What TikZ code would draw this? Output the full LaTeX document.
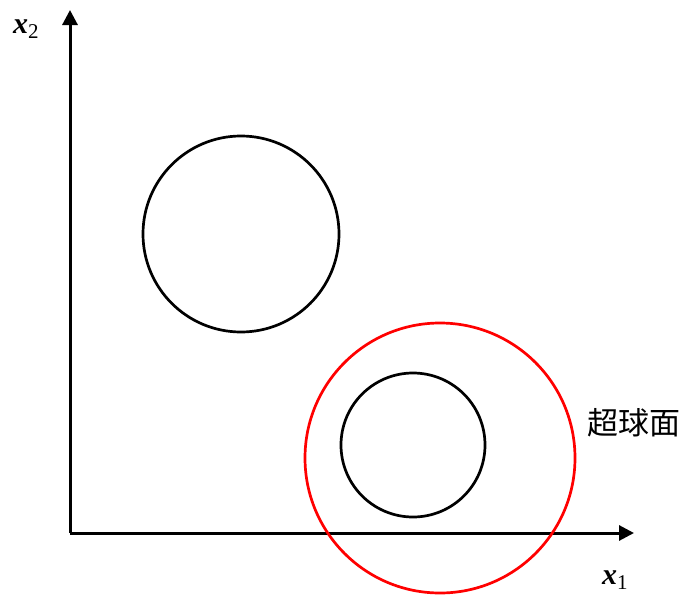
\documentclass[tikz,border=0pt]{standalone}
\usepackage{fontspec}
\setmainfont{Liberation Serif}
\newfontfamily\cjk{Noto Sans CJK SC}
\usetikzlibrary{arrows.meta}
\begin{document}
\begin{tikzpicture}[x=1pt,y=-1pt,
  axis/.style={line width=3pt,-{Triangle[length=15pt,width=15pt]}},
  ring/.style={line width=2.7pt},
  lbl/.style={inner sep=0pt,font=\fontsize{30}{32}\selectfont}]
\useasboundingbox (0,0) rectangle (682,597);
\coordinate (o) at (70,533);
\coordinate (ytip) at (70,10);
\coordinate (xtip) at (634,533);
\draw[axis] (o) -- (ytip);
\draw[axis] (o) -- (xtip);
\node[ring,draw,circle,minimum size=196pt] (c1) at (241,234) {};
\node[ring,draw,circle,minimum size=144pt] (c2) at (413,445) {};
\node[ring,draw=red,circle,minimum size=270pt] (c3) at (440,458) {};
\node[lbl,anchor=base west] (x2) at (13,33) {\textbf{\textit{x}}\textsubscript{2}};
\node[lbl,anchor=base west] (x1) at (602,584) {\textbf{\textit{x}}\textsubscript{1}};
\node[inner sep=0pt,anchor=west,font=\cjk\fontsize{31}{33}\selectfont] (lab) at (587,423) {超球面};
\end{tikzpicture}
\end{document}
